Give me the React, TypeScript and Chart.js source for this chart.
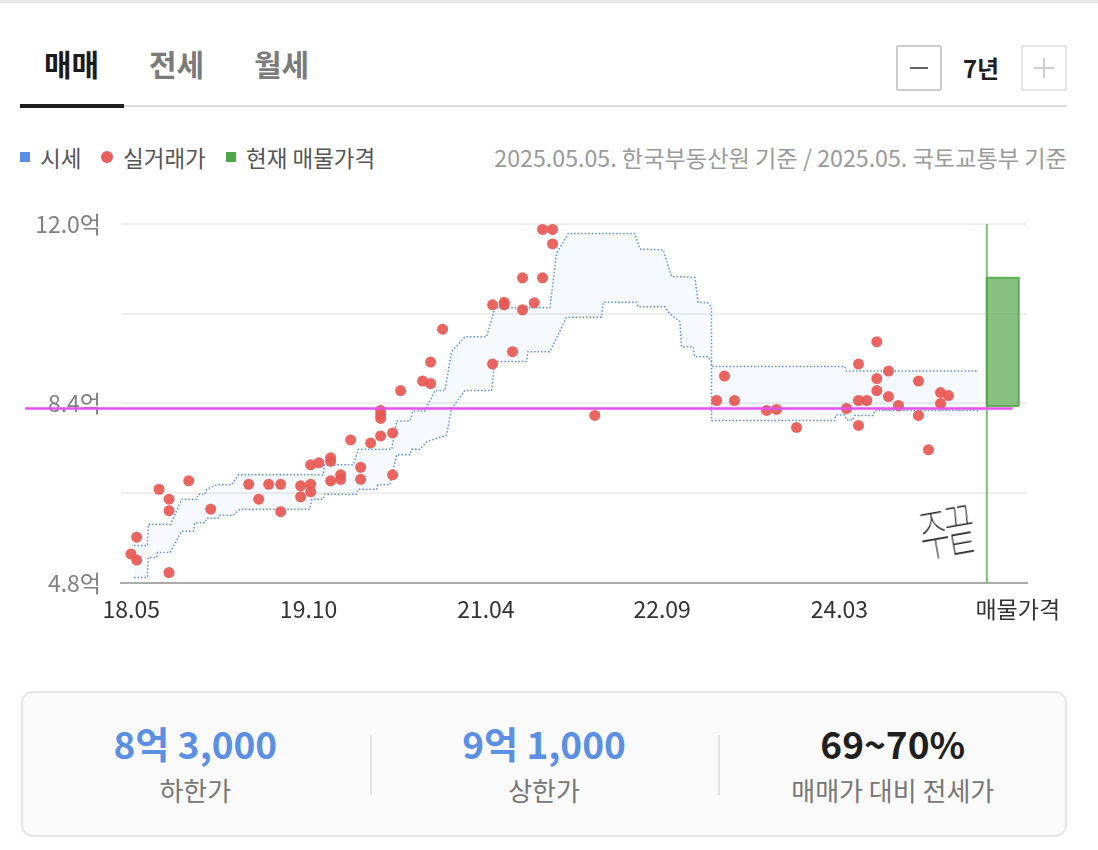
import React, { useEffect, useRef } from "react";
import { Chart, registerables } from "chart.js";

Chart.register(...registerables);

const FONT = '"Noto Sans CJK KR", "Noto Sans", sans-serif';

// x = months since the start of the 7-year window (2018.05)
const X_MIN = 0;
const X_MAX = 87.9;
const X_TICK_POS = [1.0, 18.2, 35.4, 52.5, 69.7, 87.0];
const X_TICK_LABELS = ["18.05", "19.10", "21.04", "22.09", "24.03", "매물가격"];
const Y_MIN = 4.8;
const Y_MAX = 12.0;
const Y_TICKS = [4.8, 6.6, 8.4, 10.2, 12.0];
const Y_TICK_LABELS = ["4.8억", "", "8.4억", "", "12.0억"];

// 실거래가 (억)
const DEAL_X = [
  0.97, 1.52, 1.52, 3.69, 4.66, 4.66, 4.66, 6.57, 8.7, 12.39, 13.36, 14.33, 15.49, 15.49,
  17.43, 17.43, 18.4, 18.4, 18.4, 19.2, 20.34, 20.34, 20.34, 21.31, 21.31, 22.28, 23.25, 23.25,
  24.22, 25.19, 25.19, 25.19, 25.19, 26.35, 26.35, 27.13, 29.26, 30.04, 30.04, 31.2, 36.05,
  36.05, 37.18, 37.18, 37.99, 38.96, 38.96, 40.09, 40.9, 40.9, 41.87, 41.87, 45.97, 57.78,
  58.55, 59.52, 62.63, 63.6, 65.54, 70.39, 71.55, 71.55, 71.55, 72.36, 73.33, 73.33, 73.33,
  74.46, 74.46, 75.43, 77.37, 77.37, 78.34, 79.51, 79.51, 80.28,
];
const DEAL_Y = [
  5.38, 5.72, 5.26, 6.68, 6.48, 6.25, 5.01, 6.85, 6.28, 6.78, 6.48, 6.78, 6.78, 6.23,
  6.75, 6.53, 7.17, 6.78, 6.63, 7.21, 7.31, 7.24, 6.85, 6.97, 6.88, 7.67, 7.12, 6.88,
  7.61, 7.75, 8.26, 8.17, 8.1, 7.81, 6.97, 8.66, 8.85, 8.8, 9.23, 9.89, 9.19,
  10.38, 10.43, 10.38, 9.44, 10.92, 10.28, 10.42, 10.92, 11.89, 11.89, 11.6, 8.16, 8.46,
  8.95, 8.46, 8.26, 8.28, 7.92, 8.3, 9.19, 8.46, 7.96, 8.46, 9.64, 8.9, 8.66,
  9.05, 8.54, 8.36, 8.85, 8.16, 7.47, 8.62, 8.4, 8.56,
];

// 시세 상단 / 하단 (억)
const UPPER_X = [
  1.26, 2.55, 2.65, 4.82, 5.89, 7.34, 7.47, 8.15, 8.31, 9.28, 10.74, 11.38, 19.62, 19.74,
  22.53, 23.02, 26.26, 26.74, 28.03, 28.32, 29.49, 30.46, 31.43, 32.07, 33.37, 35.47, 36.28,
  41.61, 42.26, 43.39, 49.85, 50.34, 52.6, 53.41, 55.67, 55.99, 56.93, 57.29, 57.29, 70.22,
  70.39, 83.15,
];
const UPPER_Y = [
  5.55, 5.55, 5.98, 5.98, 6.48, 6.48, 6.58, 6.58, 6.68, 6.77, 6.77, 6.97, 6.97, 7.17,
  7.17, 7.48, 7.48, 8.05, 8.05, 8.25, 8.25, 8.66, 8.66, 9.44, 9.74, 9.74, 10.32,
  10.32, 11.41, 11.81, 11.81, 11.5, 11.48, 10.95, 10.93, 10.43, 10.42, 10.34, 9.14, 9.14,
  9.05, 9.05,
];
const LOWER_X = [
  1.26, 2.55, 2.65, 3.46, 3.54, 4.75, 5.89, 7.01, 7.18, 8.15, 8.31, 9.41, 9.6, 10.89,
  11.54, 18.33, 18.5, 19.62, 19.74, 22.86, 23.02, 24.8, 24.93, 26.09, 26.74, 28.03, 28.2,
  29.0, 29.65, 31.59, 32.07, 33.37, 35.95, 36.28, 39.35, 39.48, 41.61, 43.23, 46.62, 46.78,
  50.02, 50.17, 52.76, 53.25, 54.22, 54.38, 55.51, 55.67, 56.93, 57.29, 57.29, 69.25, 69.35,
  70.22, 70.39, 71.03, 71.19, 72.97, 73.13, 83.15,
];
const LOWER_Y = [
  4.91, 4.91, 5.31, 5.31, 5.41, 5.41, 5.84, 5.84, 6.01, 6.01, 6.1, 6.1, 6.16, 6.16,
  6.28, 6.28, 6.48, 6.48, 6.58, 6.58, 6.68, 6.68, 6.77, 6.77, 7.37, 7.37, 7.48,
  7.48, 7.63, 7.77, 8.3, 8.66, 8.66, 9.24, 9.24, 9.44, 9.44, 10.13, 10.13, 10.43,
  10.43, 10.34, 10.34, 10.2, 10.04, 9.54, 9.54, 9.34, 9.34, 9.24, 8.06, 8.06, 8.17,
  8.17, 8.07, 8.07, 8.16, 8.16, 8.26, 8.26,
];

// 현재 매물가격
const NOW_X = 84.0;
const LISTING_X = [84.0, 87.1];
const LISTING_LOW = 8.35;
const LISTING_HIGH = 10.92;

// 하한가 line
const LIMIT_VALUE = 8.3;
const LIMIT_X = [-9.3, 86.5];

const SUMMARY_VALUES = ["8억 3,000", "9억 1,000", "69~70%"];
const SUMMARY_LABELS = ["하한가", "상한가", "매매가 대비 전세가"];
const SUMMARY_COLORS = ["#5b8fe4", "#5b8fe4", "#1f1f1f"];

const BLUE = "#5b8fe6";
const RED = "rgba(232, 88, 84, 0.93)";
const GREEN = "#4ea84a";

function zip(xs: number[], ys: number[]) {
  return xs.map((x, i) => ({ x, y: ys[i] }));
}

function ChartBox() {
  const ref = useRef<HTMLCanvasElement | null>(null);
  useEffect(() => {
    if (!ref.current) return;
    const chart = new Chart(ref.current, {
      type: "line",
      data: {
        datasets: [
          {
            data: LIMIT_X.map((x) => ({ x, y: LIMIT_VALUE })),
            borderColor: "#e650ef",
            borderWidth: 2.5,
            pointRadius: 0,
            fill: false,
            clip: false as any,
            order: 0,
          } as any,
          {
            type: "scatter",
            data: zip(DEAL_X, DEAL_Y),
            backgroundColor: RED,
            borderWidth: 0,
            pointRadius: 5.5,
            showLine: false,
            order: 1,
          } as any,
          {
            data: [
              { x: LISTING_X[0], y: LISTING_LOW },
              { x: LISTING_X[0], y: LISTING_HIGH },
              { x: LISTING_X[1], y: LISTING_HIGH },
              { x: LISTING_X[1], y: LISTING_LOW },
            ],
            borderColor: "rgba(78,165,70,0.85)",
            borderWidth: 2,
            backgroundColor: "rgba(78,165,70,0.68)",
            pointRadius: 0,
            fill: { target: 3 },
            order: 2,
          } as any,
          {
            data: LISTING_X.map((x) => ({ x, y: LISTING_LOW })),
            borderColor: "rgba(78,165,70,0.85)",
            borderWidth: 2,
            pointRadius: 0,
            fill: false,
            order: 3,
          } as any,
          {
            data: [
              { x: NOW_X, y: Y_MIN },
              { x: NOW_X, y: Y_MAX },
            ],
            borderColor: "rgba(110,185,100,0.9)",
            borderWidth: 2,
            pointRadius: 0,
            fill: false,
            order: 4,
          } as any,
          {
            data: zip(UPPER_X, UPPER_Y),
            borderColor: BLUE,
            borderWidth: 1.5,
            borderDash: [1.5, 2],
            backgroundColor: "rgba(91,143,230,0.055)",
            pointRadius: 0,
            fill: { target: 6 },
            order: 5,
          } as any,
          {
            data: zip(LOWER_X, LOWER_Y),
            borderColor: BLUE,
            borderWidth: 1.5,
            borderDash: [1.5, 2],
            pointRadius: 0,
            fill: false,
            order: 6,
          } as any,
        ],
      },
      options: {
        animation: false,
        responsive: false,
        devicePixelRatio: 1,
        events: [],
        layout: { padding: { top: 24, right: 71, bottom: 0, left: 0 } },
        plugins: { legend: { display: false }, tooltip: { enabled: false } },
        elements: { line: { tension: 0 } },
        scales: {
          x: {
            type: "linear",
            min: X_MIN,
            max: X_MAX,
            grid: { display: false, drawTicks: false },
            border: { display: true, color: "#aaaaaa", width: 2 },
            afterBuildTicks: (s: any) => {
              s.ticks = X_TICK_POS.map((v) => ({ value: v }));
            },
            afterFit: (s: any) => {
              s.height = 57;
            },
            ticks: {
              autoSkip: false,
              maxRotation: 0,
              padding: 12,
              color: "#333333",
              font: { family: FONT, size: 23 },
              callback: (_v: any, i: number) => X_TICK_LABELS[i],
            },
          },
          y: {
            type: "linear",
            min: Y_MIN,
            max: Y_MAX,
            grid: {
              drawTicks: false,
              lineWidth: 2,
              color: (c: any) => (c.tick && c.tick.value === Y_MIN ? "rgba(0,0,0,0)" : "#eeeeee"),
            },
            border: { display: false },
            afterBuildTicks: (s: any) => {
              s.ticks = Y_TICKS.map((v) => ({ value: v }));
            },
            afterFit: (s: any) => {
              s.width = 121;
              s.paddingTop = 0;
              s.paddingBottom = 0;
            },
            ticks: {
              padding: 20,
              color: "#808080",
              font: { family: FONT, size: 23 },
              callback: (_v: any, i: number) => Y_TICK_LABELS[i],
            },
          },
        },
      },
    } as any);
    return () => chart.destroy();
  }, []);
  return <canvas ref={ref} width={1098} height={440} style={{ display: "block", width: 1098, height: 440 }} />;
}

const abs = (s: React.CSSProperties): React.CSSProperties => ({ position: "absolute", ...s });

export default function App() {
  return (
    <div
      style={abs({
        left: 0,
        top: 0,
        width: 1098,
        height: 850,
        background: "#fff",
        fontFamily: FONT,
        overflow: "hidden",
      })}
    >
      <div style={abs({ left: 0, top: 0, width: 1098, height: 3, background: "#e8e8e8" })} />

      {/* tabs */}
      <div style={abs({ left: 44, top: 43, fontSize: 30, lineHeight: "40px", fontWeight: 700, color: "#1b1b1b" })}>매매</div>
      <div style={abs({ left: 149, top: 43, fontSize: 30, lineHeight: "40px", fontWeight: 700, color: "#7b7b7b" })}>전세</div>
      <div style={abs({ left: 254, top: 43, fontSize: 30, lineHeight: "40px", fontWeight: 700, color: "#7b7b7b" })}>월세</div>
      <div style={abs({ left: 20, top: 104, width: 104, height: 4, background: "#1f1f1f" })} />
      <div style={abs({ left: 124, top: 105, width: 943, height: 2, background: "#dcdcdc" })} />

      {/* period control */}
      <div
        style={abs({
          left: 896,
          top: 45,
          width: 46,
          height: 46,
          boxSizing: "border-box",
          border: "2px solid #cccccc",
          borderRadius: 2,
        })}
      >
        <div style={abs({ left: 12, top: 20, width: 18, height: 2, background: "#666" })} />
      </div>
      <div style={abs({ left: 940, top: 51, width: 82, textAlign: "center", fontSize: 24, lineHeight: "34px", fontWeight: 700, color: "#1f1f1f" })}>
        7년
      </div>
      <div
        style={abs({
          left: 1021,
          top: 45,
          width: 46,
          height: 46,
          boxSizing: "border-box",
          border: "2px solid #e6e6e6",
          borderRadius: 2,
        })}
      >
        <div style={abs({ left: 11, top: 20, width: 20, height: 1.5, background: "#cfcfcf" })} />
        <div style={abs({ left: 20.25, top: 11, width: 1.5, height: 20, background: "#cfcfcf" })} />
      </div>

      {/* legend */}
      <div style={abs({ left: 20, top: 152, width: 10, height: 10, background: BLUE })} />
      <div style={abs({ left: 40, top: 141, fontSize: 22.5, lineHeight: "32px", color: "#555" })}>시세</div>
      <div style={abs({ left: 101, top: 151, width: 12, height: 12, borderRadius: 6, background: "#e8605b" })} />
      <div style={abs({ left: 123, top: 141, fontSize: 22.5, lineHeight: "32px", color: "#555" })}>실거래가</div>
      <div style={abs({ left: 226, top: 152, width: 10, height: 10, background: GREEN })} />
      <div style={abs({ left: 246, top: 141, fontSize: 22.5, lineHeight: "32px", color: "#555" })}>현재 매물가격</div>
      <div
        style={abs({
          right: 31,
          top: 141,
          fontSize: 23.2,
          lineHeight: "32px",
          color: "#9a9a9a",
          whiteSpace: "nowrap",
        })}
      >
        2025.05.05. 한국부동산원 기준 / 2025.05. 국토교통부 기준
      </div>

      {/* chart */}
      <div style={abs({ left: 0, top: 200, width: 1098, height: 440 })}>
        <ChartBox />
      </div>

      {/* handwritten note */}
      <div
        style={abs({
          left: 912,
          top: 494,
          fontSize: 42,
          lineHeight: "60px",
          fontWeight: 100,
          color: "#222",
          transform: "rotate(-10deg) scale(0.78, 1.32)",
          transformOrigin: "left top",
          letterSpacing: -5,
        })}
      >
        주끝
      </div>

      {/* summary card */}
      <div
        style={abs({
          left: 21,
          top: 691,
          width: 1046,
          height: 146,
          boxSizing: "border-box",
          border: "2px solid #e6e6e6",
          borderRadius: 12,
          background: "#fafafa",
        })}
      >
        {SUMMARY_VALUES.map((v, i) => (
          <div key={i} style={abs({ left: i * 348.7 - 2, top: 0, width: 348.7, height: 142 })}>
            <div
              style={abs({
                left: 0,
                top: 25,
                width: "100%",
                textAlign: "center",
                fontSize: 37,
                lineHeight: "50px",
                fontWeight: 700,
                color: SUMMARY_COLORS[i],
              })}
            >
              {v}
            </div>
            <div
              style={abs({
                left: 0,
                top: 80,
                width: "100%",
                textAlign: "center",
                fontSize: 26,
                lineHeight: "34px",
                color: "#777",
              })}
            >
              {SUMMARY_LABELS[i]}
            </div>
            {i > 0 ? <div style={abs({ left: 0, top: 42, width: 2, height: 60, background: "#e2e2e2" })} /> : null}
          </div>
        ))}
      </div>
    </div>
  );
}
